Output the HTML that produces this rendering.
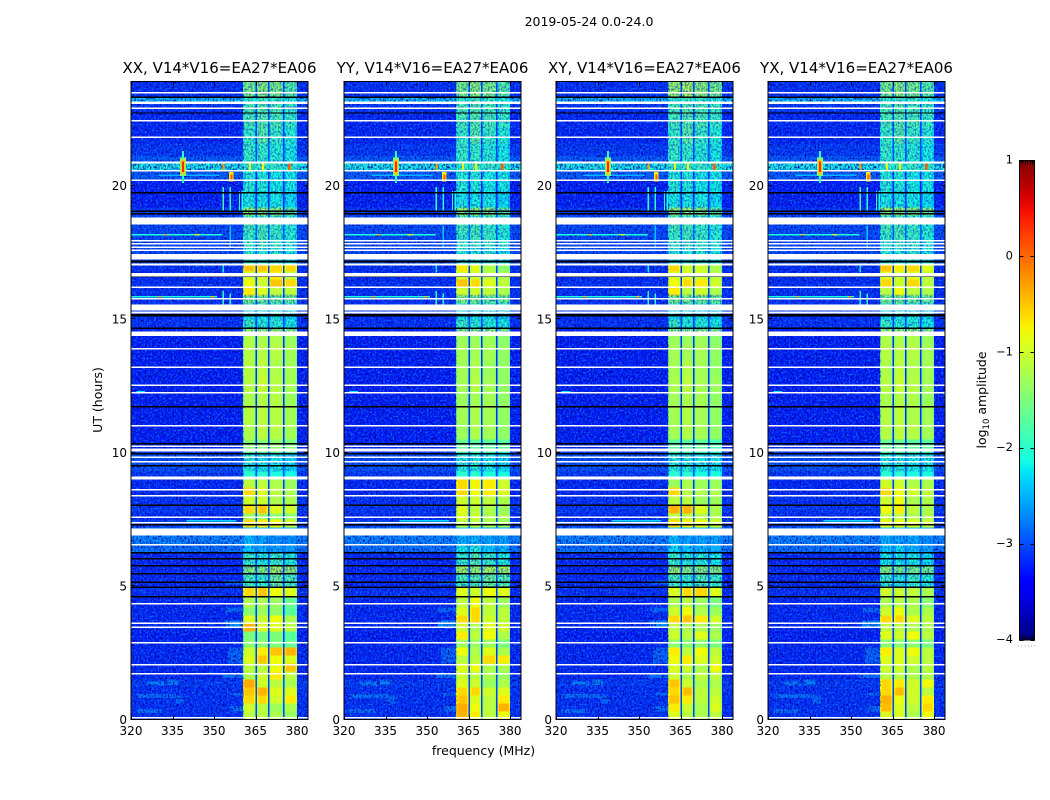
<!DOCTYPE html>
<html>
<head>
<meta charset="utf-8">
<title>2019-05-24 spectrogram</title>
<style>
html,body{margin:0;padding:0;background:#fff;width:1050px;height:800px;overflow:hidden}
svg{display:block}
text{font-family:"DejaVu Sans","Liberation Sans",sans-serif;fill:#000}
</style>
</head>
<body>
<svg id="figure" xmlns="http://www.w3.org/2000/svg" width="1050" height="800" viewBox="0 0 1050 800">
  <defs>
    <filter id="speckle-dark" x="0" y="0" width="100%" height="100%" color-interpolation-filters="sRGB">
      <feTurbulence type="fractalNoise" baseFrequency="0.6 0.45" numOctaves="1" seed="3"/>
      <feColorMatrix values="0 0 0 0 0  0 0 0 0 0.02  0 0 0 0 0.62  3.4 0 0 0 -1.5"/>
    </filter>
    <filter id="speckle-light" x="0" y="0" width="100%" height="100%" color-interpolation-filters="sRGB">
      <feTurbulence type="fractalNoise" baseFrequency="0.55 0.5" numOctaves="1" seed="11"/>
      <feColorMatrix values="0 0 0 0 0.05  0 0 0 0 0.42  0 0 0 0 1  0 3.2 0 0 -1.5"/>
    </filter>
    <linearGradient id="jet-gradient" x1="0" y1="1" x2="0" y2="0"></linearGradient>
  </defs>
  <text x="589" y="26" font-size="12.5" text-anchor="middle">2019-05-24 0.0-24.0</text>
  <text x="483.5" y="755" font-size="12.5" text-anchor="middle">frequency (MHz)</text>
  <text x="0" y="0" font-size="12.5" text-anchor="middle" transform="translate(102,400) rotate(-90)">UT (hours)</text>
  <text x="0" y="0" font-size="12.5" text-anchor="middle" transform="translate(986,400) rotate(-90)">log<tspan font-size="8.5" dy="3">10</tspan><tspan dy="-3"> amplitude</tspan></text>
  <g id="panels"></g>
  <g id="colorbar"></g>
</svg>
<script>
// ---- data ----
const panelTitles = ["XX, V14*V16=EA27*EA06","YY, V14*V16=EA27*EA06","XY, V14*V16=EA27*EA06","YX, V14*V16=EA27*EA06"];
const panelLefts = [131,344,556,768];
const freqTicks = [320,335,350,365,380];
const timeTicks = [0,5,10,15,20];
const colorbarTicks = [1,0,-1,-2,-3,-4];
const rowTopHours = [.30,.60,.90,1.20,1.50,1.80,2.10,2.40,2.70,3.00,3.30,3.60,3.90,4.19,4.57,4.94,5.47,5.77,6.25,6.55,6.89,7.19,7.49,7.72,8.01,8.39,8.69,8.99,9.29,10.0,10.49,11.09,11.69,12.28,12.88,13.48,14.08,14.38,14.68,14.98,15.28,15.58,15.88,16.18,16.48,16.78,17.08,17.68,18.28,18.58,18.88,19.18,19.78,20.56,20.86,21.57,22.17,22.77,23.11,23.30,23.90];
const bandFreqs = [[360.5,365],[365.5,369.5],[370,375],[375.5,380]];
const backgroundLevels = [-3.15,-3.15,-3.15,-3.15,-3.1,-3.2,-3.2,-3.2,-3.2,-3.2,-3.25,-3.2,-3.2,-3.2,-3.2,-3.15,-3.2,-3.2,-3.2,-2.75,-2.65,-2.65,-3.05,-3.2,-3.1,-3.15,-3.2,-3.2,-3.1,-2.95,-3.25,-3.25,-3.25,-3.25,-3.25,-3.25,-3.25,-3.25,-3.25,-3.15,-3.15,-3.1,-3.15,-3.15,-3.15,-3.2,-3.15,-3.0,-3.0,-3.0,-3.0,-3.1,-3.25,-3.25,-2.1,-3.1,-3.2,-3.2,-3.1,-2.35,-3.15];
const xxLevels = [[-1.1,-1.1,-1.2,-1.3],[-1.0,-1.1,-1.3,-1.2],[-.6,-.6,-1.0,-.7],[-.5,-.4,-.9,-.9],[-.35,-1.0,-1.1,-1.2],[-1.2,-1.0,-.7,-1.1],[-1.1,-1.1,-.8,-.5],[-.9,-.5,-.8,-.9],[-1.0,-.7,-.5,-.4],[-1.4,-1.4,-1.5,-1.6],[-1.5,-1.5,-1.5,-1.7],[-.4,-.9,-.9,-1.1],[-.9,-1.0,-.8,-1.2],[-1.4,-1.3,-1.4,-1.7],[-1.2,-1.2,-1.3,-1.6],[-.6,-.5,-.8,-.9],[-1.8,-1.9,-1.6,-1.8],[-1.4,-1.4,-1.2,-1.3],[-1.9,-2.0,-1.9,-2.0],[-2.3,-2.4,-2.5,-2.5],[-2.4,-2.5,-2.6,-2.6],[-2.4,-2.4,-2.5,-2.5],[-.6,-.7,-.8,-1.0],[-1.3,-1.3,-1.4,-1.4],[-.6,-.5,-.9,-1.0],[-1.0,-1.0,-1.2,-1.2],[-.6,-.9,-1.1,-1.2],[-1.1,-1.1,-1.2,-1.3],[-2.0,-2.0,-2.1,-2.1],[-2.0,-2.1,-2.1,-2.2],[-1.4,-1.4,-1.4,-1.5],[-1.2,-1.1,-1.15,-1.25],[-1.15,-1.1,-1.15,-1.25],[-1.2,-1.15,-1.15,-1.3],[-1.15,-1.05,-1.15,-1.25],[-1.15,-1.1,-1.2,-1.25],[-1.15,-1.15,-1.15,-1.25],[-1.2,-1.2,-1.2,-1.3],[-1.3,-1.3,-1.3,-1.4],[-1.9,-2.0,-2.0,-2.1],[-2.1,-2.1,-2.1,-2.2],[-2.0,-2.0,-2.1,-2.1],[-1.5,-1.5,-1.6,-1.6],[-.7,-.9,-1.1,-1.1],[-.8,-1.0,-.5,-.6],[-1.0,-.9,-.7,-1.1],[-.5,-.5,-.6,-.6],[-2.0,-2.0,-2.0,-2.1],[-1.9,-1.8,-1.9,-2.0],[-1.8,-1.8,-1.9,-2.0],[-1.8,-1.8,-1.9,-2.0],[-1.3,-1.3,-1.4,-1.6],[-2.1,-2.1,-2.1,-2.2],[-2.0,-2.0,-2.1,-2.1],[-1.9,-1.8,-1.9,-1.9],[-1.9,-1.9,-2.0,-2.1],[-1.9,-1.7,-1.9,-2.0],[-1.8,-1.7,-1.8,-1.9],[-1.8,-1.7,-1.8,-1.9],[-1.9,-1.8,-1.9,-2.0],[-1.5,-1.4,-1.5,-1.7]];
const yyLevels = [[-.4,-.7,-1.1,-.8],[-.35,-.8,-1.1,-.4],[-.5,-.9,-1.1,-.7],[-.6,-.6,-1.0,-.9],[-.9,-1.0,-1.3,-1.2],[-1.0,-1.1,-1.2,-1.3],[-.9,-.8,-1.2,-1.2],[-1.1,-1.1,-.6,-.7],[-.8,-1.2,-.9,-1.2],[-1.3,-1.3,-1.3,-1.5],[-.7,-1.1,-.8,-1.2],[-1.0,-1.2,-.9,-1.0],[-.6,-.6,-1.0,-1.1],[-.9,-.6,-1.1,-1.1],[-1.1,-.8,-1.1,-1.3],[-.9,-1.0,-.8,-.9],[-1.8,-1.7,-1.6,-1.7],[-1.2,-1.3,-1.2,-1.2],[-1.9,-1.7,-1.9,-2.0],[-2.1,-2.0,-2.3,-2.4],[-2.4,-2.4,-2.5,-2.5],[-2.4,-2.4,-2.5,-2.5],[-1.1,-1.1,-1.2,-1.3],[-.9,-1.0,-1.2,-1.2],[-.9,-1.1,-1.2,-1.3],[-1.0,-1.0,-1.1,-1.2],[-.6,-.8,-.7,-.9],[-.6,-.75,-.7,-1.0],[-2.0,-2.0,-2.1,-2.1],[-2.0,-2.0,-2.1,-2.2],[-1.6,-1.7,-1.7,-1.7],[-1.3,-1.2,-1.25,-1.35],[-1.25,-1.2,-1.25,-1.35],[-1.3,-1.25,-1.25,-1.35],[-1.25,-1.15,-1.25,-1.35],[-1.25,-1.2,-1.3,-1.35],[-1.25,-1.25,-1.25,-1.35],[-1.3,-1.3,-1.3,-1.4],[-1.4,-1.4,-1.4,-1.5],[-1.9,-2.0,-2.0,-2.1],[-2.1,-2.1,-2.1,-2.2],[-2.0,-2.0,-2.1,-2.1],[-1.5,-1.5,-1.6,-1.6],[-1.0,-1.0,-1.1,-1.2],[-.5,-.6,-.9,-1.1],[-1.0,-1.0,-1.1,-1.2],[-.7,-.9,-1.2,-1.4],[-2.0,-2.0,-2.0,-2.1],[-1.9,-1.8,-1.9,-2.0],[-1.8,-1.8,-1.9,-2.0],[-1.8,-1.8,-1.9,-2.0],[-1.3,-1.3,-1.4,-1.6],[-2.1,-2.1,-2.1,-2.2],[-2.0,-2.0,-2.1,-2.1],[-1.9,-1.8,-1.9,-1.9],[-1.9,-1.9,-2.0,-2.1],[-1.9,-1.7,-1.9,-2.0],[-1.8,-1.7,-1.8,-1.9],[-1.8,-1.7,-1.8,-1.9],[-1.9,-1.8,-1.9,-2.0],[-1.5,-1.4,-1.5,-1.7]];
const xyLevels = [[-.9,-1.1,-1.2,-1.1],[-.7,-1.0,-1.2,-.9],[-.5,-.7,-1.1,-1.0],[-.6,-.45,-1.1,-1.1],[-.5,-1.0,-1.2,-1.2],[-1.0,-1.2,-1.1,-1.1],[-.9,-1.0,-1.2,-.8],[-.8,-.7,-.9,-1.0],[-.7,-1.1,-.8,-1.1],[-1.4,-1.4,-1.4,-1.5],[-1.0,-1.1,-.9,-1.2],[-1.1,-1.2,-1.2,-1.3],[-.6,-.5,-.7,-1.0],[-1.0,-.8,-1.2,-1.3],[-1.2,-1.1,-1.3,-1.5],[-.9,-.6,-.6,-.9],[-1.8,-1.9,-1.8,-1.9],[-1.3,-1.4,-1.4,-1.4],[-1.9,-2.0,-2.0,-2.1],[-2.2,-2.3,-2.4,-2.4],[-2.4,-2.5,-2.5,-2.5],[-2.4,-2.4,-2.5,-2.5],[-.6,-.7,-.8,-1.0],[-1.1,-1.1,-1.2,-1.2],[-.4,-.4,-.9,-1.2],[-1.1,-1.1,-1.3,-1.3],[-.6,-1.1,-1.2,-1.2],[-1.3,-1.2,-1.3,-1.3],[-2.0,-2.0,-2.1,-2.1],[-2.0,-2.0,-2.1,-2.1],[-1.7,-1.7,-1.7,-1.8],[-1.25,-1.15,-1.25,-1.35],[-1.25,-1.15,-1.25,-1.35],[-1.25,-1.2,-1.25,-1.35],[-1.2,-1.1,-1.25,-1.3],[-1.25,-1.15,-1.25,-1.35],[-1.25,-1.25,-1.25,-1.35],[-1.3,-1.3,-1.3,-1.4],[-1.4,-1.4,-1.4,-1.5],[-1.9,-2.0,-2.0,-2.1],[-2.1,-2.1,-2.1,-2.2],[-2.0,-2.0,-2.1,-2.1],[-1.5,-1.5,-1.6,-1.6],[-.7,-1.1,-1.0,-1.2],[-.8,-.6,-.7,-1.0],[-.9,-.9,-1.0,-1.1],[-.6,-1.0,-1.0,-1.2],[-2.0,-2.0,-2.0,-2.1],[-1.9,-1.8,-1.9,-2.0],[-1.8,-1.8,-1.9,-2.0],[-1.8,-1.8,-1.9,-2.0],[-1.3,-1.3,-1.4,-1.6],[-2.1,-2.1,-2.1,-2.2],[-2.0,-2.0,-2.1,-2.1],[-1.9,-1.8,-1.9,-1.9],[-1.9,-1.9,-2.0,-2.1],[-1.9,-1.7,-1.9,-2.0],[-1.8,-1.7,-1.8,-1.9],[-1.8,-1.7,-1.8,-1.9],[-1.9,-1.8,-1.9,-2.0],[-1.3,-1.2,-1.4,-1.5]];
const yxLevels = [[-.9,-.9,-1.2,-.8],[-.45,-.9,-1.1,-.6],[-.4,-.8,-1.0,-.7],[-.6,-.45,-1.0,-1.1],[-.6,-.7,-1.0,-.8],[-1.1,-1.1,-1.2,-1.2],[-1.0,-1.0,-1.2,-1.1],[-.9,-.9,-1.0,-1.1],[-.7,-.9,-.8,-1.1],[-1.4,-1.4,-1.4,-1.5],[-.9,-1.0,-.8,-1.1],[-1.1,-1.1,-1.2,-1.2],[-.6,-.6,-.9,-1.1],[-1.0,-.8,-1.2,-1.2],[-1.2,-1.1,-1.2,-1.4],[-1.0,-1.0,-1.1,-1.2],[-1.9,-2.0,-1.9,-2.0],[-1.4,-1.5,-1.5,-1.5],[-2.1,-2.1,-2.1,-2.2],[-2.3,-2.2,-2.4,-2.5],[-2.4,-2.5,-2.5,-2.6],[-2.4,-2.4,-2.5,-2.5],[-.8,-.8,-.9,-1.0],[-1.1,-1.1,-1.2,-1.2],[-.8,-.7,-1.1,-1.2],[-1.0,-.8,-1.2,-1.2],[-.6,-.8,-1.0,-1.1],[-1.0,-1.0,-1.2,-1.2],[-2.0,-2.0,-2.1,-2.1],[-2.0,-2.0,-2.1,-2.1],[-1.6,-1.6,-1.7,-1.7],[-1.15,-1.1,-1.15,-1.25],[-1.15,-1.1,-1.2,-1.25],[-1.2,-1.15,-1.2,-1.3],[-1.15,-1.05,-1.15,-1.25],[-1.2,-1.1,-1.2,-1.25],[-1.15,-1.15,-1.15,-1.25],[-1.2,-1.2,-1.2,-1.3],[-1.3,-1.3,-1.3,-1.4],[-1.9,-2.0,-2.0,-2.1],[-2.1,-2.1,-2.1,-2.2],[-2.0,-2.0,-2.1,-2.1],[-1.5,-1.5,-1.6,-1.6],[-1.1,-.8,-1.1,-1.2],[-.6,-1.0,-.6,-1.1],[-.9,-1.0,-.9,-1.1],[-.5,-.7,-.6,-.9],[-2.0,-2.0,-2.0,-2.1],[-1.9,-1.8,-1.9,-2.0],[-1.8,-1.8,-1.9,-2.0],[-1.8,-1.8,-1.9,-2.0],[-1.3,-1.3,-1.4,-1.5],[-2.1,-2.1,-2.1,-2.2],[-2.0,-2.0,-2.1,-2.1],[-1.9,-1.8,-1.9,-1.9],[-1.9,-1.9,-2.0,-2.1],[-1.9,-1.7,-1.9,-2.0],[-1.8,-1.7,-1.8,-1.9],[-1.8,-1.7,-1.8,-1.9],[-1.9,-1.8,-1.9,-2.0],[-1.5,-1.4,-1.5,-1.7]];
const panelLevels = [xxLevels,yyLevels,xyLevels,yxLevels];
// [freq start, freq end, hour start, hour end, log10 amplitude]
const softFeatures = [
 [326,332,1.28,1.42,-2.7],[333,337,1.3,1.5,-2.7],[322,336,.8,.95,-2.8],[322,331,.25,.4,-2.8],[336,339,.6,.9,-2.85],
 [353,360.5,1.55,1.75,-2.8],[355,360.5,2.1,2.7,-2.85],[356,360.5,.9,1.0,-2.8],[356,360.5,.3,.5,-2.8],[354,360.5,3.45,3.7,-2.6],[354,360.5,4.0,4.2,-2.85],[354,360.5,5.05,5.2,-2.8],
 [320,360.5,20.2,20.56,-2.9],[320,360.5,20.86,21.1,-2.9],[380,384,20.2,20.56,-2.9],[380,384,20.86,21.1,-2.9]
];
const sharpFeatures = [
 [320,353,18.13,18.19,-2.1],[332,333,18.13,18.19,-.4],[343,345,18.13,18.19,-1.0],[320,351,15.81,15.87,-2.1],[330,331,15.81,15.87,-.4],[349,350,15.81,15.87,-.5],[340,358,7.42,7.48,-2.3],[322,325,12.25,12.3,-2.2],
 [353,353.6,19.0,19.95,-1.9],[355.6,356.1,19.0,19.95,-2.0],[359,359.4,19.0,19.8,-2.0],[360,360.5,19.0,19.8,-2.1],
 [353,353.6,15.35,16.05,-2.0],[355.6,356.1,15.35,15.95,-2.0],[353,353.6,16.75,17.0,-2.2],[355.6,356.1,17.7,18.5,-2.4],
 [330,352,20.36,20.42,-2.5],
 [355.5,357,20.15,20.5,-.7],[355.9,356.6,20.2,20.42,.1],
 [353,353.8,20.56,20.86,-.3],[362.7,363.3,20.56,20.86,-.9],[367.4,368,20.56,20.86,-.8],[376.8,377.6,20.56,20.86,.05]
];
const spikeFeatures = [
 [338.4,339.2,20.1,21.3,-2.0],[337.7,339.9,20.35,21.05,-1.5],[338.1,339.5,20.42,20.98,-.5],[338.4,339.2,20.5,20.9,.35]
];
// hour ranges where data are flagged (drawn white) or dropped (drawn black)
const whiteGaps = [[23.44,23.5],[23.06,23.14],[22.87,22.93],[22.4,22.46],[21.78,21.84],[20.83,20.89],[20.53,20.59],[20.16,20.22],[18.54,18.81],[17.9,17.96],[17.79,17.85],[17.66,17.72],[17.54,17.6],[17.22,17.43],[17.01,17.07],[16.6,16.72],[16.16,16.22],[15.73,15.79],[15.34,15.54],[15.29,15.32],[15.2,15.26],[14.36,14.54],[13.85,13.91],[13.16,13.22],[12.49,12.55],[12.21,12.27],[10.97,11.03],[10.21,10.27],[10.04,10.15],[9.79,9.85],[9.62,9.68],[8.99,9.1],[8.57,8.63],[8.35,8.41],[7.55,7.61],[7.34,7.4],[6.9,7.15],[6.52,6.58],[4.3,4.36],[3.58,3.64],[3.43,3.49],[2.84,2.9],[2.02,2.08],[1.68,1.74],[.03,.09]];
const blackGaps = [[23.28,23.33],[22.69,22.74],[19.7,19.76],[19.01,19.06],[18.91,18.97],[17.12,17.19],[16.57,16.6],[15.1,15.19],[14.62,14.68],[11.68,11.74],[10.3,10.36],[9.93,9.99],[9.48,9.54],[8.0,8.06],[7.27,7.33],[6.21,6.27],[5.99,6.05],[5.73,5.79],[5.43,5.49],[5.11,5.17],[4.92,4.98],[4.57,4.63]];
// [freq start, freq end, hour start, hour end] areas carrying visible speckle
const speckleAreas = [[320,360.5,0,23.9],[380,384,0,23.9],[360.5,380,17.1,23.9],[360.5,380,14.4,15.9],[360.5,380,9.3,10.0],[360.5,380,4.94,6.9]];

// ---- axes ----
const svgNS = "http://www.w3.org/2000/svg";
const panelWidth = 177;
const axisBottom = 719.5;
const pxPerHour = 26.7;
const pxPerMHz = 2.767;
const yOf = h => axisBottom - h * pxPerHour;
const xOf = (left, f) => left + (f - 320) * pxPerMHz;
const clampFreq = f => Math.min(f, 320 + panelWidth / pxPerMHz);

function jetChannel(t, pts){
  for(let i = 1; i < pts.length; i++){
    if(t <= pts[i][0]){
      const a = pts[i-1], b = pts[i];
      return a[1] + (b[1]-a[1]) * (t-a[0]) / (b[0]-a[0]);
    }
  }
  return pts[pts.length-1][1];
}
function jet(level){
  const t = Math.max(0, Math.min(1, (level + 4) / 5));
  const r = jetChannel(t, [[0,0],[.35,0],[.66,1],[.89,1],[1,.5]]);
  const g = jetChannel(t, [[0,0],[.125,0],[.375,1],[.64,1],[.91,0],[1,0]]);
  const b = jetChannel(t, [[0,.5],[.11,1],[.34,1],[.65,0],[1,0]]);
  return "rgb(" + Math.round(r*255) + "," + Math.round(g*255) + "," + Math.round(b*255) + ")";
}
function addRect(parent, x, y, w, h, fill){
  const r = document.createElementNS(svgNS, "rect");
  r.setAttribute("x", x.toFixed(2));
  r.setAttribute("y", y.toFixed(2));
  r.setAttribute("width", Math.max(w, 0).toFixed(2));
  r.setAttribute("height", Math.max(h, 0).toFixed(2));
  r.setAttribute("fill", fill);
  parent.appendChild(r);
  return r;
}
function addLine(parent, x1, y1, x2, y2){
  const l = document.createElementNS(svgNS, "line");
  l.setAttribute("x1", x1);
  l.setAttribute("y1", y1);
  l.setAttribute("x2", x2);
  l.setAttribute("y2", y2);
  l.setAttribute("stroke", "#000");
  l.setAttribute("stroke-width", "1");
  parent.appendChild(l);
  return l;
}
function addText(parent, x, y, str, anchor, size){
  const t = document.createElementNS(svgNS, "text");
  t.setAttribute("x", x);
  t.setAttribute("y", y);
  t.setAttribute("text-anchor", anchor);
  t.setAttribute("font-size", size);
  t.textContent = str;
  parent.appendChild(t);
  return t;
}

// ---- panels ----
const panelsRoot = document.getElementById("panels");
panelLefts.forEach((left, p) => {
  const g = document.createElementNS(svgNS, "g");
  
  
  g.setAttribute("shape-rendering", "crispEdges");
  panelsRoot.appendChild(g);

  const levels = panelLevels[p];
  let prevTop = 0;
  rowTopHours.forEach((top, i) => {
    const yT = yOf(top), h = yOf(prevTop) - yT;
    const bg = backgroundLevels[i];
    const bgCell = addRect(g, left, yT, panelWidth, h, jet(bg));
    
    
    for(let b = 0; b < bandFreqs.length - 1; b++){
      const gapCell = addRect(g, xOf(left, bandFreqs[b][1]), yT, (bandFreqs[b+1][0] - bandFreqs[b][1]) * pxPerMHz, h, jet(bg + 0.1));
      
      
    }
    bandFreqs.forEach((band, b) => {
      const v = levels[i][b];
      const edge = addRect(g, xOf(left, band[0]), yT, (band[1] - band[0]) * pxPerMHz, h, jet(v - 0.2));
      
      
      const core = addRect(g, xOf(left, band[0] + 0.5), yT, (band[1] - band[0] - 1.0) * pxPerMHz, h, jet(v));
      
      
    });
    prevTop = top;
  });

  softFeatures.forEach(f => {
    const m = addRect(g, xOf(left, f[0]), yOf(f[3]), (f[1] - f[0]) * pxPerMHz, (f[3] - f[2]) * pxPerHour, jet(f[4]));
    
    
  });

  speckleAreas.forEach(a => {
    ["speckle-dark", "speckle-light"].forEach(id => {
      const s = addRect(g, xOf(left, a[0]), yOf(a[3]), (clampFreq(a[1]) - a[0]) * pxPerMHz, (a[3] - a[2]) * pxPerHour, "#000");
      s.setAttribute("filter", "url(#" + id + ")");
      s.setAttribute("opacity", a[0] >= 360 && a[0] < 380 ? "0.55" : "1");
      
      
    });
  });

  sharpFeatures.forEach(f => {
    const m = addRect(g, xOf(left, f[0]), yOf(f[3]), (f[1] - f[0]) * pxPerMHz, (f[3] - f[2]) * pxPerHour, jet(f[4]));
    
    
  });

  whiteGaps.forEach(w => {
    const m = addRect(g, left, yOf(w[1]), panelWidth, (w[1] - w[0]) * pxPerHour, "#fff");
    
    
  });
  blackGaps.forEach(w => {
    const m = addRect(g, left, yOf(w[1]), panelWidth, (w[1] - w[0]) * pxPerHour, "#000");
    
    
  });

  spikeFeatures.forEach(f => {
    const m = addRect(g, xOf(left, f[0]), yOf(f[3]), (f[1] - f[0]) * pxPerMHz, (f[3] - f[2]) * pxPerHour, jet(f[4]));
    
    
  });

  const top = yOf(23.9);
  const frame = addRect(g, left, top, panelWidth, axisBottom - top, "none");
  frame.setAttribute("stroke", "#000");
  frame.setAttribute("stroke-width", "1");
  
  

  freqTicks.forEach(f => {
    const x = Math.round(xOf(left, f)) + 0.5;
    const t1 = addLine(g, x, axisBottom, x, axisBottom - 4);
    
    
    const t2 = addLine(g, x, top, x, top + 4);
    
    
    const lab = addText(panelsRoot, xOf(left, f), 735, String(f), "middle", 12);
    
    
  });
  timeTicks.forEach(h => {
    const y = Math.round(yOf(h)) - 0.5;
    const t1 = addLine(g, left, y, left + 4, y);
    
    
    const t2 = addLine(g, left + panelWidth, y, left + panelWidth - 4, y);
    
    
    const lab = addText(panelsRoot, left - 4, yOf(h) + 4.5, String(h), "end", 12);
    
    
  });
  const title = addText(panelsRoot, left + panelWidth / 2, 73, panelTitles[p], "middle", 15);
  
  
});

// ---- colorbar ----
const cbLeft = 1019.5, cbWidth = 15, cbTop = 160.5, cbBottom = 640;
const cbY = v => cbBottom - (v + 4) / 5 * (cbBottom - cbTop);
const gradient = document.getElementById("jet-gradient");
for(let i = 0; i <= 40; i++){
  const stop = document.createElementNS(svgNS, "stop");
  stop.setAttribute("offset", i / 40);
  stop.setAttribute("stop-color", jet(-4 + i / 8));
  gradient.appendChild(stop);
}
const cb = document.getElementById("colorbar");
const cbBar = addRect(cb, cbLeft, cbTop, cbWidth, cbBottom - cbTop, "url(#jet-gradient)");
cbBar.setAttribute("stroke", "#000");


colorbarTicks.forEach(v => {
  const y = Math.round(cbY(v)) + 0.5;
  const a = addLine(cb, cbLeft, y, cbLeft + 4, y);
  
  
  const b = addLine(cb, cbLeft + cbWidth - 4, y, cbLeft + cbWidth, y);
  
  
  const lab = addText(cb, 1013, cbY(v) + 3, String(v).replace("-", "\u2212"), "end", 11.5);
  
  
});
for(let i = 1; i <= 5; i++){
  const x = Math.round(cbLeft + i * cbWidth / 6) + 0.5;
  const a = addLine(cb, x, cbTop, x, cbTop + 4);
  
  
  const b = addLine(cb, x, cbBottom, x, cbBottom - 4);
  
  
}
for(let i = 0; i < 6; i++){
  const d = addRect(cb, 1018 + i * 3.3, 645.5, 1, 1, "#999");
  
  
}
</script>
</body>
</html>
